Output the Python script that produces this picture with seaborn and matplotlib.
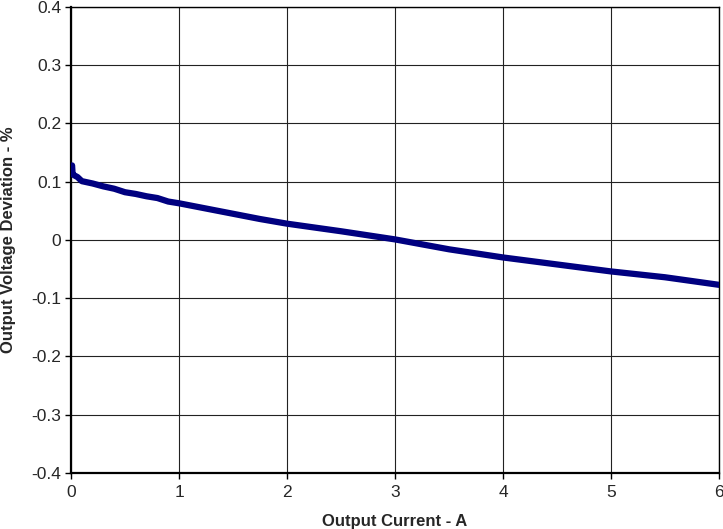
import matplotlib
matplotlib.use("Agg")
import matplotlib.pyplot as plt
import pandas as pd
import seaborn as sns

# values
current_a = [0.01, 0.015, 0.03, 0.06, 0.1, 0.2, 0.3, 0.4, 0.5, 0.6, 0.7, 0.8,
             0.9, 1.0, 1.25, 1.5, 1.75, 2.0, 2.5, 3.0, 3.5, 4.0, 4.5, 5.0,
             5.5, 6.0]
deviation_pct = [0.128, 0.113, 0.111, 0.108, 0.101, 0.097, 0.092, 0.088, 0.082,
                 0.079, 0.075, 0.072, 0.066, 0.063, 0.054, 0.045, 0.036, 0.028,
                 0.015, 0.001, -0.016, -0.030, -0.042, -0.054, -0.064, -0.077]

x_ticks = [0, 1, 2, 3, 4, 5, 6]
y_ticks = [-0.4, -0.3, -0.2, -0.1, 0, 0.1, 0.2, 0.3, 0.4]
y_labels = ["-0.4", "-0.3", "-0.2", "-0.1", "0", "0.1", "0.2", "0.3", "0.4"]

df = pd.DataFrame({"current": current_a, "deviation": deviation_pct})

sns.set_theme(style="white")
plt.rcParams["font.family"] = ["Liberation Sans", "DejaVu Sans"]

fig = plt.figure(figsize=(7.23, 5.29), dpi=100)
ax = fig.add_axes([0.0982, 0.1059, 0.8963, 0.8809])

sns.lineplot(data=df, x="current", y="deviation", ax=ax, color="#000080",
             linewidth=4.5, solid_capstyle="round", zorder=3)

ax.set_xlim(0, 6)
ax.set_ylim(-0.4, 0.4)
ax.set_xticks(x_ticks)
ax.set_xticklabels([str(t) for t in x_ticks])
ax.set_yticks(y_ticks)
ax.set_yticklabels(y_labels)
ax.grid(True, color="#222222", linewidth=0.8)
ax.tick_params(axis="both", labelsize=12.5, length=4, width=1, color="black",
               direction="out", bottom=True, left=True)
ax.tick_params(axis="x", pad=5)
ax.tick_params(axis="y", pad=3)
for side, sp in ax.spines.items():
    sp.set_color("black")
    sp.set_linewidth(1.0 if side in ("top", "right") else 1.6)

ax.set_xlabel("Output Current - A", fontsize=12, fontweight="bold", labelpad=10)
ax.set_ylabel("Output Voltage Deviation - %", fontsize=12, fontweight="bold",
              labelpad=11)

fig.savefig("out.png", dpi=100)
